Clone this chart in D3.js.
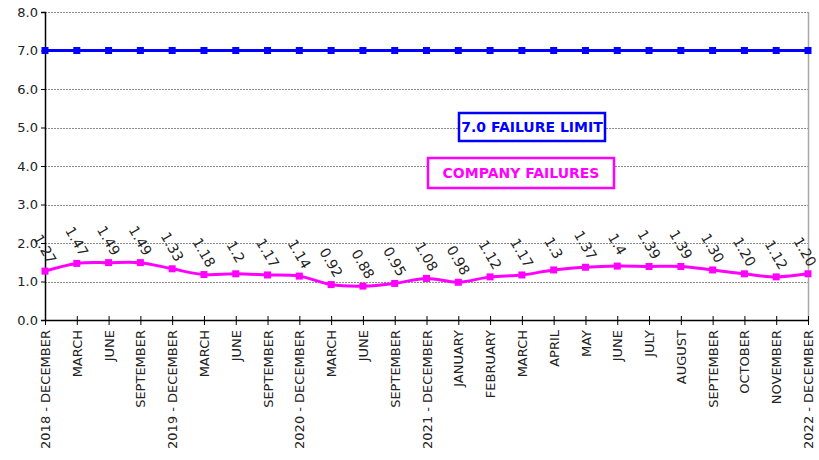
<!DOCTYPE html>
<html>
<head>
<meta charset="utf-8">
<script src="https://cdn.jsdelivr.net/npm/d3@7"></script>
<style>
  body { margin: 0; background: #fff; }
  svg { display: block; font-family: "DejaVu Sans", sans-serif; }
</style>
</head>
<body>
<svg id="chart"></svg>
<script>
// Categories (quarters, then months of 2022)
const categories = [
  '2018 - DECEMBER', 'MARCH', 'JUNE', 'SEPTEMBER',
  '2019 - DECEMBER', 'MARCH', 'JUNE', 'SEPTEMBER',
  '2020 - DECEMBER', 'MARCH', 'JUNE', 'SEPTEMBER',
  '2021 - DECEMBER', 'JANUARY', 'FEBRUARY', 'MARCH', 'APRIL', 'MAY', 'JUNE',
  'JULY', 'AUGUST', 'SEPTEMBER', 'OCTOBER', 'NOVEMBER', '2022 - DECEMBER'
];
const failures = [1.27, 1.47, 1.49, 1.49, 1.33, 1.18, 1.2, 1.17, 1.14, 0.92, 0.88, 0.95,
  1.08, 0.98, 1.12, 1.17, 1.3, 1.37, 1.4, 1.39, 1.39, 1.30, 1.20, 1.12, 1.20];
const failureLabels = ['1.27', '1.47', '1.49', '1.49', '1.33', '1.18', '1.2', '1.17', '1.14',
  '0.92', '0.88', '0.95', '1.08', '0.98', '1.12', '1.17', '1.3', '1.37', '1.4', '1.39',
  '1.39', '1.30', '1.20', '1.12', '1.20'];
const limit = categories.map(() => 7.0);
const yTicks = [0, 1, 2, 3, 4, 5, 6, 7, 8];

const width = 819;
const height = 460;
const margin = { top: 12, right: 11, bottom: 140, left: 45 };

const svg = d3.select('#chart')
  .attr('width', width)
  .attr('height', height);

const idx = categories.map((_, i) => i);

const x = d3.scalePoint()
  .domain(idx)
  .range([margin.left, width - margin.right]);

const y = d3.scaleLinear()
  .domain([0, 8])
  .range([height - margin.bottom, margin.top]);

// Gridlines
svg.append('g')
  .selectAll('line')
  .data(yTicks.filter(d => d > 0))
  .join('line')
  .attr('x1', margin.left)
  .attr('x2', width - margin.right)
  .attr('y1', d => Math.round(y(d)) + 0.5)
  .attr('y2', d => Math.round(y(d)) + 0.5)
  .attr('stroke', '#8a8a8a')
  .attr('stroke-dasharray', '2,1')
  .attr('shape-rendering', 'crispEdges');

// Right border
svg.append('line')
  .attr('x1', width - margin.right + 0.5)
  .attr('x2', width - margin.right + 0.5)
  .attr('y1', margin.top)
  .attr('y2', y(0))
  .attr('stroke', '#a8a8a8')
  .attr('stroke-width', 1.5);

// Y axis
const yAxis = svg.append('g')
  .attr('transform', `translate(${margin.left},0)`)
  .call(d3.axisLeft(y).tickValues(yTicks).tickFormat(d3.format('.1f')).tickSize(4));
yAxis.select('.domain').attr('stroke', '#000').attr('stroke-width', 1.5);
yAxis.selectAll('text').attr('font-size', 13).attr('fill', '#222').attr('font-family', '"DejaVu Sans", sans-serif');

// X axis
const xAxis = svg.append('g')
  .attr('transform', `translate(0,${y(0)})`)
  .call(d3.axisBottom(x).tickSize(0).tickFormat(i => categories[i]));
xAxis.select('.domain').attr('stroke', '#000').attr('stroke-width', 1.5);
xAxis.selectAll('.tick').append('line')
  .attr('y1', -4)
  .attr('y2', 5)
  .attr('stroke', '#000');
xAxis.selectAll('text')
  .attr('font-size', 13)
  .attr('fill', '#222')
  .attr('font-family', '"DejaVu Sans", sans-serif')
  .attr('text-anchor', 'end')
  .attr('dy', '0.35em')
  .attr('transform', 'translate(0,10) rotate(-90)')
  .attr('x', 0)
  .attr('y', 0);

// Lines
const line = d3.line()
  .x((d, i) => x(i))
  .y(d => y(d));

svg.append('path')
  .datum(limit)
  .attr('fill', 'none')
  .attr('stroke', '#0000ff')
  .attr('stroke-width', 3)
  .attr('d', line);

svg.append('g')
  .selectAll('rect')
  .data(limit)
  .join('rect')
  .attr('x', (d, i) => x(i) - 3.5)
  .attr('y', d => y(d) - 3.5)
  .attr('width', 7)
  .attr('height', 7)
  .attr('fill', '#0000ff');

svg.append('path')
  .datum(failures)
  .attr('fill', 'none')
  .attr('stroke', '#ff00ff')
  .attr('stroke-width', 3)
  .attr('d', line.curve(d3.curveCatmullRom));

svg.append('g')
  .selectAll('rect')
  .data(failures)
  .join('rect')
  .attr('x', (d, i) => x(i) - 3.5)
  .attr('y', d => y(d) - 3.5)
  .attr('width', 7)
  .attr('height', 7)
  .attr('fill', '#ff00ff');

// Data labels
svg.append('g')
  .selectAll('text')
  .data(failures)
  .join('text')
  .attr('transform', (d, i) => `translate(${x(i) - (i === failures.length - 1 ? 3 : 0)},${y(d) - 22}) rotate(60)`)
  .attr('text-anchor', 'middle')
  .attr('dy', '0.35em')
  .attr('font-size', 14)
  .attr('fill', '#222')
  .text((d, i) => failureLabels[i]);

// Series label boxes
const legends = [
  { text: '7.0 FAILURE LIMIT', color: '#0000ff', cx: 532, cy: 127, w: 146, h: 28 },
  { text: 'COMPANY FAILURES', color: '#ff00ff', cx: 521, cy: 173, w: 186, h: 30 }
];
const lg = svg.append('g')
  .selectAll('g')
  .data(legends)
  .join('g')
  .attr('transform', d => `translate(${d.cx},${d.cy})`);
lg.append('rect')
  .attr('x', d => -d.w / 2)
  .attr('y', d => -d.h / 2)
  .attr('width', d => d.w)
  .attr('height', d => d.h)
  .attr('fill', '#fff')
  .attr('stroke', d => d.color)
  .attr('stroke-width', 2.5);
lg.append('text')
  .attr('text-anchor', 'middle')
  .attr('dy', '0.35em')
  .attr('font-size', 14)
  .attr('font-weight', 'bold')
  .attr('fill', d => d.color)
  .text(d => d.text);
</script>
</body>
</html>
